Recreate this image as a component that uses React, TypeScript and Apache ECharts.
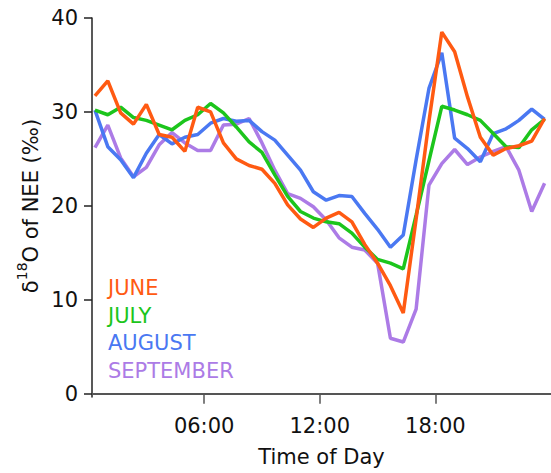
import React, { useEffect, useRef } from "react";
import * as echarts from "echarts";

// Sampling times (every 40 minutes through the day)
const times = [
  "00:20", "01:00", "01:40", "02:20", "03:00", "03:40", "04:20", "05:00", "05:40",
  "06:20", "07:00", "07:40", "08:20", "09:00", "09:40", "10:20", "11:00", "11:40",
  "12:20", "13:00", "13:40", "14:20", "15:00", "15:40", "16:20", "17:00", "17:40",
  "18:20", "19:00", "19:40", "20:20", "21:00", "21:40", "22:20", "23:00", "23:40",
];

const months = ["JUNE", "JULY", "AUGUST", "SEPTEMBER"];
const colors = ["#FF5A12", "#1CC51C", "#4A78F2", "#AC7BE6"];

const june = [
  31.7, 33.3, 29.9, 28.7, 30.8, 27.6, 27.3, 25.8, 30.5, 30.0, 26.7, 25.0,
  24.3, 23.9, 22.4, 20.1, 18.6, 17.7, 18.7, 19.3, 18.3, 15.9, 13.9, 11.5,
  8.6, 18.6, 29.0, 38.5, 36.4, 31.6, 27.3, 25.4, 26.1, 26.4, 26.9, 29.3,
];
const july = [
  30.2, 29.7, 30.5, 29.4, 29.1, 28.6, 28.1, 29.1, 29.7, 30.9, 29.9, 28.4,
  26.8, 25.7, 23.3, 21.0, 19.4, 18.7, 18.3, 18.1, 17.1, 15.6, 14.3, 13.9,
  13.3, 19.0, 24.8, 30.6, 30.2, 29.7, 29.1, 27.7, 26.3, 26.2, 28.1, 29.2,
];
const august = [
  30.2, 26.3, 24.9, 23.0, 25.6, 27.6, 26.6, 27.3, 27.6, 28.8, 29.3, 29.0,
  29.1, 27.9, 27.0, 25.4, 23.8, 21.5, 20.6, 21.1, 21.0, 19.2, 17.5, 15.6,
  16.9, 24.9, 32.5, 36.3, 27.2, 26.1, 24.7, 27.7, 28.2, 29.1, 30.3, 29.2,
];
const september = [
  26.2, 28.6, 25.1, 23.1, 24.1, 26.5, 27.8, 26.7, 25.9, 25.9, 28.6, 28.7,
  29.3, 26.7, 23.8, 21.3, 20.8, 19.9, 18.5, 16.6, 15.6, 15.3, 13.9, 5.9,
  5.5, 9.0, 22.2, 24.5, 26.0, 24.4, 25.2, 25.8, 26.3, 23.8, 19.4, 22.4,
];

const yTicks = [0, 10, 20, 30, 40];
const xTicks = [6, 12, 18];

const FONT = "DejaVu Sans";

function toHours(t: string): number {
  const [h, m] = t.split(":").map(Number);
  return h + m / 60;
}

export default function App() {
  const ref = useRef<HTMLDivElement>(null);

  useEffect(() => {
    if (!ref.current) return;
    const chart = echarts.init(ref.current, undefined, { renderer: "svg" });
    const hours = times.map(toHours);
    const allSeries = [june, july, august, september];

    chart.setOption({
      animation: false,
      backgroundColor: "#ffffff",
      grid: { left: 92, right: -8, top: 18, bottom: 76, containLabel: false },
      xAxis: {
        type: "value",
        min: 0.18,
        max: 24,
        name: "Time of Day",
        nameLocation: "middle",
        nameGap: 49,
        nameTextStyle: { fontFamily: FONT, fontSize: 21, color: "#111" },
        axisLine: { lineStyle: { color: "#555", width: 2 } },
        axisTick: { customValues: xTicks, length: 10, lineStyle: { color: "#555", width: 1.5 } },
        axisLabel: {
          customValues: xTicks,
          margin: 18,
          fontFamily: FONT,
          fontSize: 21,
          color: "#111",
          formatter: (v: number) => `${String(v).padStart(2, "0")}:00`,
        },
        splitLine: { show: false },
      },
      yAxis: {
        type: "value",
        min: -0.35,
        max: 40,
        axisLine: { show: true, lineStyle: { color: "#222", width: 1.5 } },
        axisTick: { customValues: yTicks, length: 8, lineStyle: { color: "#222", width: 1.5 } },
        axisLabel: {
          customValues: yTicks,
          margin: 14,
          fontFamily: FONT,
          fontSize: 21,
          color: "#111",
        },
        splitLine: { show: false },
      },
      graphic: [
        {
          type: "text",
          x: 28,
          y: 206,
          rotation: Math.PI / 2,
          style: {
            text: "{d|δ}{s|18}{d|O of NEE (‰)}",
            align: "center",
            verticalAlign: "middle",
            rich: {
              d: { fontFamily: FONT, fontSize: 21, fill: "#111", lineHeight: 26, verticalAlign: "bottom" },
              s: { fontFamily: FONT, fontSize: 14, fill: "#111", lineHeight: 14, verticalAlign: "top" },
            },
          },
        },
        ...months.map((m, i) => ({
          type: "text",
          x: 108,
          y: 288 + i * 27.5,
          style: {
            text: m,
            fontFamily: FONT,
            fontSize: 21,
            fill: colors[i],
            align: "left",
            verticalAlign: "middle",
          },
        })),
      ],
      series: allSeries.map((vals, i) => ({
        name: months[i],
        type: "line",
        showSymbol: false,
        clip: false,
        data: hours.map((h, j) => [h, vals[j]]),
        lineStyle: { color: colors[i], width: 3.5 },
        itemStyle: { color: colors[i] },
        z: 2 + (3 - i),
      })),
    });

    return () => chart.dispose();
  }, []);

  return (
    <div
      ref={ref}
      style={{ position: "absolute", left: 0, top: 0, width: 551, height: 473 }}
    />
  );
}
